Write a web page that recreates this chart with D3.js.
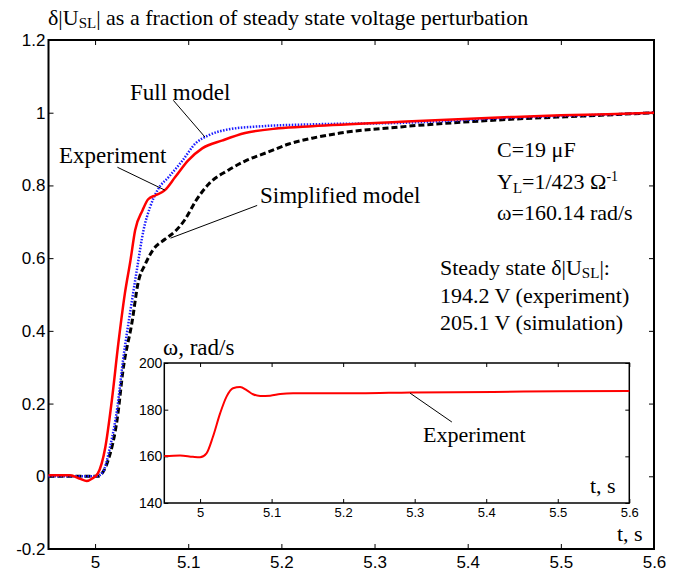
<!DOCTYPE html>
<html>
<head>
<meta charset="utf-8">
<script src="https://cdn.jsdelivr.net/npm/d3@7"></script>
<style>
  body { margin: 0; background: #fff; }
  svg { display: block; }
</style>
</head>
<body>
<svg id="chart" width="679" height="574"></svg>
<script>
// main plot: fraction of steady state perturbation vs time
const timeDomain = [4.95, 5.6]
const fracDomain = [-0.2, 1.2]
const xTicks = [5, 5.1, 5.2, 5.3, 5.4, 5.5, 5.6]
const yTicks = [-0.2, 0, 0.2, 0.4, 0.6, 0.8, 1, 1.2]

const expTime = [4.95, 4.973, 4.984, 4.991, 4.997, 5.003, 5.011, 5.018, 5.025, 5.032, 5.038, 5.043, 5.051, 5.057, 5.065, 5.075, 5.086, 5.100, 5.115, 5.137, 5.161, 5.197, 5.233, 5.328, 5.446, 5.5, 5.55, 5.6]
const expValue = [0.003, 0.003, -0.007, -0.013, -0.006, 0.008, 0.080, 0.209, 0.366, 0.503, 0.594, 0.677, 0.732, 0.762, 0.773, 0.787, 0.823, 0.869, 0.902, 0.924, 0.944, 0.957, 0.963, 0.975, 0.988, 0.993, 0.996, 1.0]

const fullTime = [4.95, 5.001, 5.008, 5.016, 5.024, 5.030, 5.038, 5.045, 5.052, 5.059, 5.067, 5.079, 5.094, 5.108, 5.122, 5.143, 5.180, 5.233, 5.328, 5.446, 5.5, 5.55, 5.6]
const fullValue = [0, 0, 0.01, 0.080, 0.191, 0.319, 0.457, 0.570, 0.677, 0.740, 0.787, 0.823, 0.869, 0.916, 0.938, 0.954, 0.963, 0.968, 0.972, 0.986, 0.991, 0.995, 1.0]

const simpTime = [4.95, 5.003, 5.008, 5.014, 5.024, 5.030, 5.040, 5.046, 5.054, 5.062, 5.075, 5.086, 5.097, 5.108, 5.122, 5.143, 5.161, 5.186, 5.208, 5.233, 5.263, 5.328, 5.446, 5.543, 5.6]
const simpValue = [0, 0, 0.01, 0.044, 0.162, 0.292, 0.429, 0.530, 0.584, 0.622, 0.652, 0.674, 0.708, 0.757, 0.804, 0.842, 0.867, 0.892, 0.914, 0.930, 0.944, 0.961, 0.982, 0.993, 1.0]

// inset: rotor speed
const omegaDomain = [140, 200]
const omegaTicks = [140, 160, 180, 200]
const omegaTime = [4.95, 4.972, 4.990, 5.000, 5.009, 5.018, 5.028, 5.037, 5.046, 5.056, 5.065, 5.074, 5.084, 5.098, 5.112, 5.13, 5.224, 5.294, 5.41, 5.503, 5.6]
const omegaValue = [160.1, 160.4, 159.8, 159.6, 161.3, 168.4, 178.4, 185.6, 189.2, 189.7, 188.4, 186.6, 185.9, 186.0, 186.7, 187.0, 187.0, 187.4, 187.6, 187.9, 188.0]

const serif = 'Liberation Serif, Times New Roman, serif'
const sans = 'Liberation Sans, Arial, sans-serif'

const svg = d3.select('#chart')
svg.append('rect').attr('width', 679).attr('height', 574).attr('fill', '#fff')

const x = d3.scaleLinear().domain(timeDomain).range([48.5, 654])
const y = d3.scaleLinear().domain(fracDomain).range([549, 40])

const fmt = d => String(+d.toFixed(1))

const styleAxis = (g, size) => {
    g.attr('font-family', sans).attr('font-size', size)
    g.select('.domain').remove()
    g.selectAll('line').attr('stroke', '#000').attr('stroke-width', 1)
    g.selectAll('text').attr('fill', '#000')
}

svg.append('g').attr('transform', 'translate(0,549)')
    .call(d3.axisBottom(x).tickValues(xTicks).tickFormat(fmt).tickSize(-5).tickSizeOuter(0).tickPadding(7))
    .call(g => styleAxis(g, 17))
svg.append('g').attr('transform', 'translate(0,40)')
    .call(d3.axisTop(x).tickValues(xTicks).tickFormat('').tickSize(-5).tickSizeOuter(0))
    .call(g => styleAxis(g, 17))
svg.append('g').attr('transform', 'translate(48.5,0)')
    .call(d3.axisLeft(y).tickValues(yTicks).tickFormat(fmt).tickSize(-5).tickSizeOuter(0).tickPadding(3))
    .call(g => styleAxis(g, 17))
svg.append('g').attr('transform', 'translate(654,0)')
    .call(d3.axisRight(y).tickValues(yTicks).tickFormat('').tickSize(-5).tickSizeOuter(0))
    .call(g => styleAxis(g, 17))

svg.append('rect')
    .attr('x', x.range()[0]).attr('y', y.range()[1])
    .attr('width', x.range()[1] - x.range()[0]).attr('height', y.range()[0] - y.range()[1])
    .attr('fill', 'none').attr('stroke', '#000').attr('stroke-width', 2)

const line = d3.line().x(d => x(d[0])).y(d => y(d[1])).curve(d3.curveMonotoneX)

svg.append('path').datum(d3.zip(simpTime, simpValue))
    .attr('d', line).attr('fill', 'none')
    .attr('stroke', '#000').attr('stroke-width', 3).attr('stroke-dasharray', '6,3')
svg.append('path').datum(d3.zip(fullTime, fullValue))
    .attr('d', line).attr('fill', 'none')
    .attr('stroke', '#1a1aff').attr('stroke-width', 2.5).attr('stroke-dasharray', '1.5,1.5')
svg.append('path').datum(d3.zip(expTime, expValue))
    .attr('d', line).attr('fill', 'none')
    .attr('stroke', '#ff0000').attr('stroke-width', 2.5)

// leaders, in data coordinates
const leaders = [
    { from: [5.084, 1.034], to: [5.118, 0.933] },
    { from: [5.024, 0.850], to: [5.075, 0.787] },
    { from: [5.174, 0.745], to: [5.081, 0.655] }
]
svg.append('g').selectAll('line').data(leaders).join('line')
    .attr('x1', d => x(d.from[0])).attr('y1', d => y(d.from[1]))
    .attr('x2', d => x(d.to[0])).attr('y2', d => y(d.to[1]))
    .attr('stroke', '#000').attr('stroke-width', 1)

const addText = (px, py, parts, size) => {
    const t = svg.append('text').attr('x', px).attr('y', py)
        .attr('font-family', serif).attr('font-size', size).attr('fill', '#000')
    parts.forEach(p => {
        const s = t.append('tspan').text(p.t)
        if (p.size) s.attr('font-size', p.size)
        if (p.dy) s.attr('dy', p.dy)
    })
    return t
}

addText(48, 25, [{ t: 'δ|U' }, { t: 'SL', size: 15, dy: 3 }, { t: '| as a fraction of steady state voltage perturbation', dy: -3 }], 22)
addText(130, 100, [{ t: 'Full model' }], 23)
addText(59, 163, [{ t: 'Experiment' }], 23)
addText(260, 203, [{ t: 'Simplified model' }], 23)

addText(497, 157, [{ t: 'C=19 μF' }], 22)
addText(497, 189, [{ t: 'Y' }, { t: 'L', size: 15, dy: 4 }, { t: '=1/423 Ω', dy: -4 }, { t: '-1', size: 14, dy: -8 }], 22)
addText(497, 220, [{ t: 'ω=160.14 rad/s' }], 22)
addText(440, 275, [{ t: 'Steady state δ|U' }, { t: 'SL', size: 15, dy: 3 }, { t: '|:', dy: -3 }], 22)
addText(440, 303, [{ t: '194.2 V (experiment)' }], 22)
addText(440, 330, [{ t: '205.1 V (simulation)' }], 22)
addText(617, 541, [{ t: 't, s' }], 22)

// inset
const x2 = d3.scaleLinear().domain(timeDomain).range([164.3, 629.3])
const y2 = d3.scaleLinear().domain(omegaDomain).range([503, 363])

svg.append('rect')
    .attr('x', x2.range()[0]).attr('y', y2.range()[1])
    .attr('width', x2.range()[1] - x2.range()[0]).attr('height', y2.range()[0] - y2.range()[1])
    .attr('fill', '#fff').attr('stroke', 'none')

svg.append('g').attr('transform', 'translate(0,503)')
    .call(d3.axisBottom(x2).tickValues(xTicks).tickFormat(fmt).tickSize(-4).tickSizeOuter(0).tickPadding(5))
    .call(g => styleAxis(g, 13))
svg.append('g').attr('transform', 'translate(0,363)')
    .call(d3.axisTop(x2).tickValues(xTicks).tickFormat('').tickSize(-4).tickSizeOuter(0))
    .call(g => styleAxis(g, 13))
svg.append('g').attr('transform', 'translate(164.3,0)')
    .call(d3.axisLeft(y2).tickValues(omegaTicks).tickFormat(d3.format('d')).tickSize(-4).tickSizeOuter(0).tickPadding(2))
    .call(g => styleAxis(g, 14))
svg.append('g').attr('transform', 'translate(629.3,0)')
    .call(d3.axisRight(y2).tickValues(omegaTicks).tickFormat('').tickSize(-4).tickSizeOuter(0))
    .call(g => styleAxis(g, 13))

svg.append('rect')
    .attr('x', x2.range()[0]).attr('y', y2.range()[1])
    .attr('width', x2.range()[1] - x2.range()[0]).attr('height', y2.range()[0] - y2.range()[1])
    .attr('fill', 'none').attr('stroke', '#000').attr('stroke-width', 1.5)

const line2 = d3.line().x(d => x2(d[0])).y(d => y2(d[1])).curve(d3.curveMonotoneX)
svg.append('path').datum(d3.zip(omegaTime, omegaValue))
    .attr('d', line2).attr('fill', 'none')
    .attr('stroke', '#ff0000').attr('stroke-width', 2)

svg.append('line')
    .attr('x1', x2(5.352)).attr('y1', y2(174.7))
    .attr('x2', x2(5.2935)).attr('y2', y2(187.1))
    .attr('stroke', '#000').attr('stroke-width', 1)

addText(163, 355, [{ t: 'ω, rad/s' }], 23)
addText(423, 442, [{ t: 'Experiment' }], 22)
addText(590, 493, [{ t: 't, s' }], 22)
</script>
</body>
</html>
